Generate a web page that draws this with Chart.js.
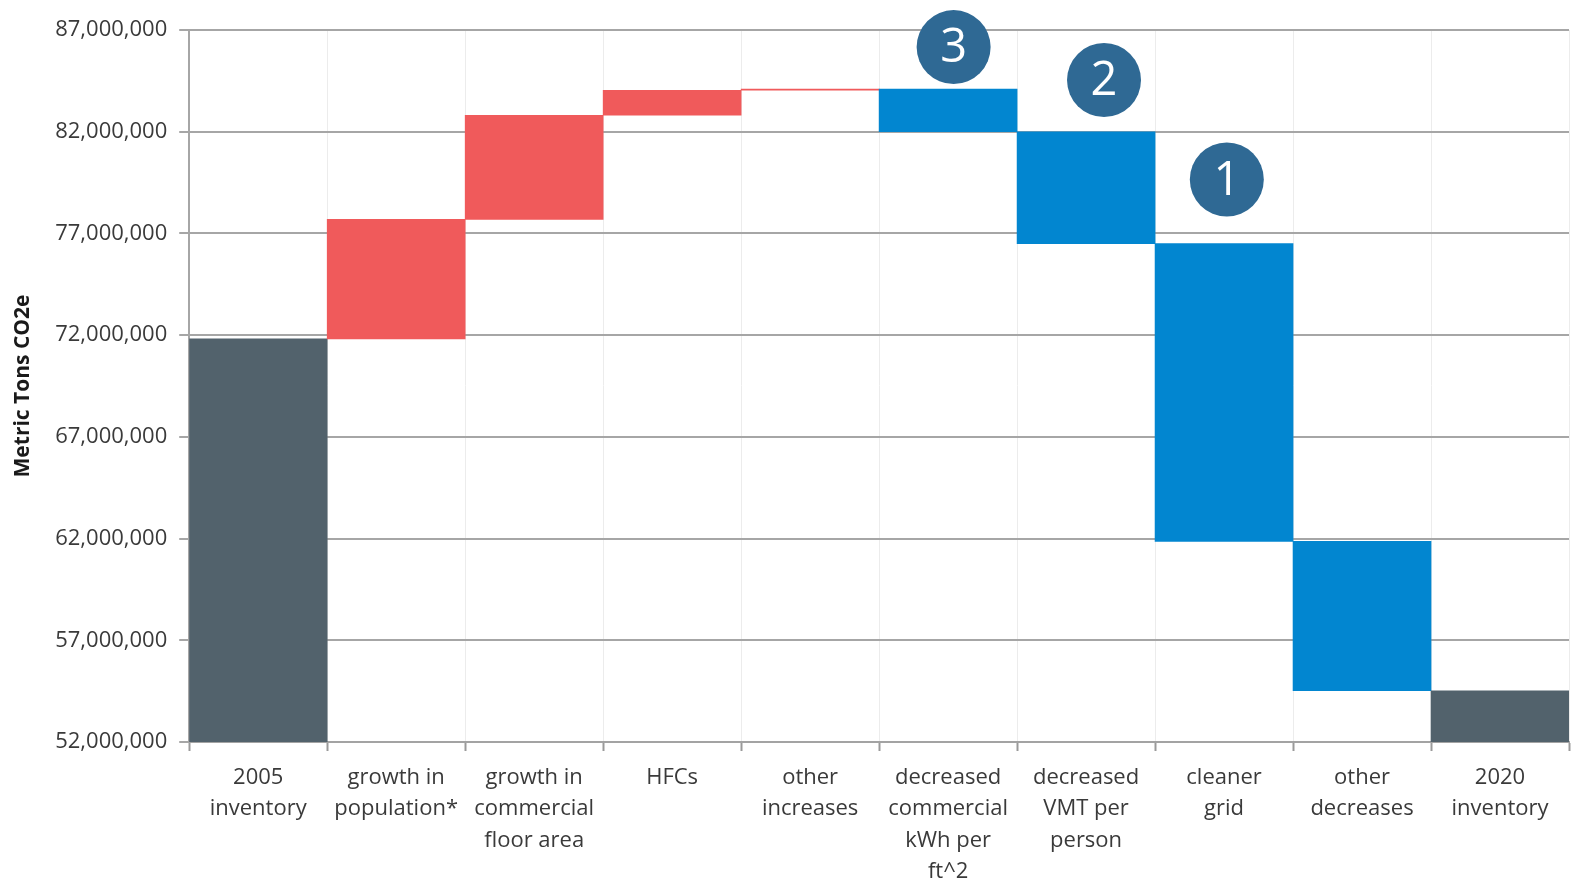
<!DOCTYPE html>
<html>
<head>
<meta charset="utf-8">
<script src="https://cdn.jsdelivr.net/npm/chart.js@4/dist/chart.umd.min.js"></script>
<style>
  body { margin: 0; background: #fff; }
  #chart { display: block; }
</style>
</head>
<body>
<canvas id="chart" width="1579" height="880"></canvas>
<script>
// categories (multi-line labels)
const categories = [
  ['2005', 'inventory'],
  ['growth in', 'population*'],
  ['growth in', 'commercial', 'floor area'],
  ['HFCs'],
  ['other', 'increases'],
  ['decreased', 'commercial', 'kWh per', 'ft^2'],
  ['decreased', 'VMT per', 'person'],
  ['cleaner', 'grid'],
  ['other', 'decreases'],
  ['2020', 'inventory']
];

// waterfall bars: where each bar starts and ends (metric tons CO2e)
const barStart = [52000000, 71820000, 77690000, 82810000, 84040000, 84100000, 82000000, 76500000, 61860000, 52000000];
const barEnd   = [71820000, 77690000, 82810000, 84040000, 84100000, 82000000, 76500000, 61860000, 54520000, 54520000];
// total / increase / decrease
const barKind = ['total', 'up', 'up', 'up', 'up', 'down', 'down', 'down', 'down', 'total'];

const yTicks = [52000000, 57000000, 62000000, 67000000, 72000000, 77000000, 82000000, 87000000];

// numbered badges (category position, value)
const badgeText = ['3', '2', '1'];
const badgeCat = [5.04, 6.13, 7.02];
const badgeVal = [86160000, 84540000, 79650000];

const kindColor = { total: '#52626c', up: '#f05a5b', down: '#0286d0' };

const badgePlugin = {
  id: 'badges',
  afterDatasetsDraw(chart) {
    const ctx = chart.ctx;
    const x = chart.scales.x, y = chart.scales.y;
    ctx.save();
    for (let i = 0; i < badgeText.length; i++) {
      const px = x.getPixelForValue(badgeCat[i]);
      const py = y.getPixelForValue(badgeVal[i]);
      ctx.beginPath();
      ctx.arc(px, py, 37, 0, Math.PI * 2);
      ctx.fillStyle = '#2f6994';
      ctx.fill();
      ctx.fillStyle = '#ffffff';
      ctx.font = '47px "Open Sans"';
      ctx.textAlign = 'center';
      ctx.textBaseline = 'middle';
      ctx.fillText(badgeText[i], px, py + 2);
    }
    ctx.restore();
  }
};

const config = {
  type: 'bar',
  data: {
    labels: categories,
    datasets: [{
      data: barStart.map((s, i) => [s, barEnd[i]]),
      backgroundColor: barKind.map(k => kindColor[k]),
      borderWidth: 0,
      barPercentage: 1,
      categoryPercentage: 1
    }]
  },
  options: {
    responsive: false,
    animation: false,
    devicePixelRatio: 1,
    layout: { padding: { top: 30, right: 10, left: 10, bottom: 0 } },
    plugins: {
      legend: { display: false },
      tooltip: { enabled: false }
    },
    scales: {
      x: {
        afterFit: scale => { scale.height = 138; },
        grid: { offset: true, color: '#ececec', lineWidth: 1, tickColor: '#9a9a9a', tickWidth: 2, tickLength: 9 },
        border: { color: '#a3a3a3', width: 2 },
        ticks: {
          autoSkip: false, maxRotation: 0, padding: 11,
          color: '#3a3a3a',
          font: { family: 'Open Sans', size: 22, lineHeight: 1.43 }
        }
      },
      y: {
        min: 52000000,
        max: 87000000,
        afterBuildTicks: scale => { scale.ticks = yTicks.map(v => ({ value: v })); },
        grid: { color: '#a6a6a6', lineWidth: 2, tickLength: 10 },
        border: { color: '#a6a6a6', width: 2 },
        ticks: {
          padding: 12,
          color: '#3a3a3a',
          font: { family: 'Open Sans', size: 22 },
          callback: v => v.toLocaleString('en-US')
        },
        title: {
          display: true,
          text: 'Metric Tons CO2e',
          color: '#1a1a1a',
          font: { family: 'Open Sans', size: 21, weight: 'bold' },
          padding: { top: 0, bottom: 8 }
        }
      }
    }
  },
  plugins: [badgePlugin]
};

new Chart(document.getElementById('chart'), config);
</script>
</body>
</html>
